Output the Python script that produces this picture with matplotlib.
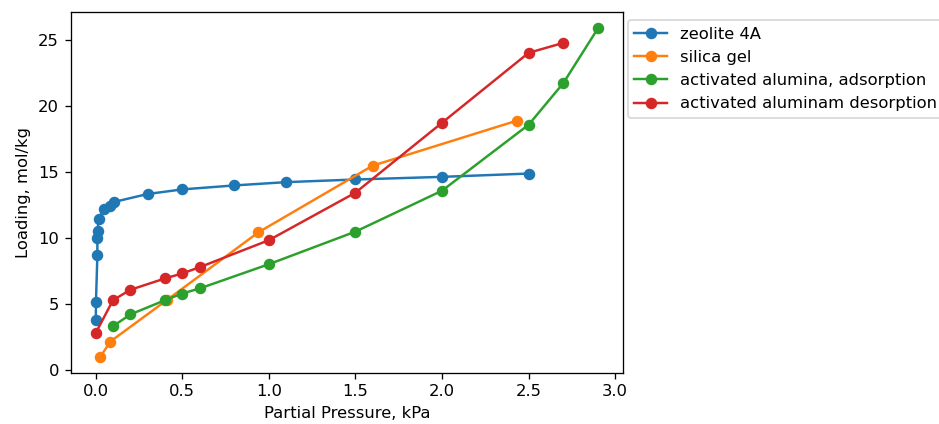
import matplotlib
matplotlib.use("Agg")
import matplotlib.pyplot as plt

# zeolite 4A
zeo_p = [0.001, 0.002, 0.01, 0.01, 0.012, 0.017, 0.047, 0.085, 0.107, 0.3, 0.5, 0.8, 1.1, 1.5, 2.0, 2.5]
zeo_q = [3.75, 5.15, 8.65, 10.0, 10.5, 11.4, 12.15, 12.4, 12.7, 13.3, 13.65, 13.95, 14.2, 14.4, 14.6, 14.85]

# silica gel
sil_p = [0.028, 0.085, 0.41, 0.94, 1.6, 2.43]
sil_q = [0.98, 2.12, 5.25, 10.4, 15.45, 18.85]

# activated alumina, adsorption
ads_p = [0.1, 0.2, 0.4, 0.5, 0.6, 1.0, 1.5, 2.0, 2.5, 2.7, 2.9]
ads_q = [3.28, 4.17, 5.25, 5.76, 6.14, 7.98, 10.45, 13.55, 18.55, 21.7, 25.85]

# activated alumina, desorption
des_p = [0.0, 0.1, 0.2, 0.4, 0.5, 0.6, 1.0, 1.5, 2.0, 2.5, 2.7]
des_q = [2.75, 5.25, 6.04, 6.9, 7.28, 7.75, 9.8, 13.4, 18.7, 24.0, 24.75]

# reference looks like a default plot rendered a bit larger, so bump the dpi
dpi = 118
fig = plt.figure(figsize=(939 / dpi, 424 / dpi), dpi=dpi)
ax = fig.add_axes([0.0751, 0.1203, 0.5884, 0.8514])

ax.plot(zeo_p, zeo_q, '-o', label='zeolite 4A')
ax.plot(sil_p, sil_q, '-o', label='silica gel')
ax.plot(ads_p, ads_q, '-o', label='activated alumina, adsorption')
ax.plot(des_p, des_q, '-o', label='activated aluminam desorption')

ax.set_xlabel('Partial Pressure, kPa')
ax.set_ylabel('Loading, mol/kg')
# legend sits just outside the right edge of the axes
ax.legend(loc='upper left', bbox_to_anchor=(0.994, 1))

fig.savefig('out.png', dpi=dpi)
